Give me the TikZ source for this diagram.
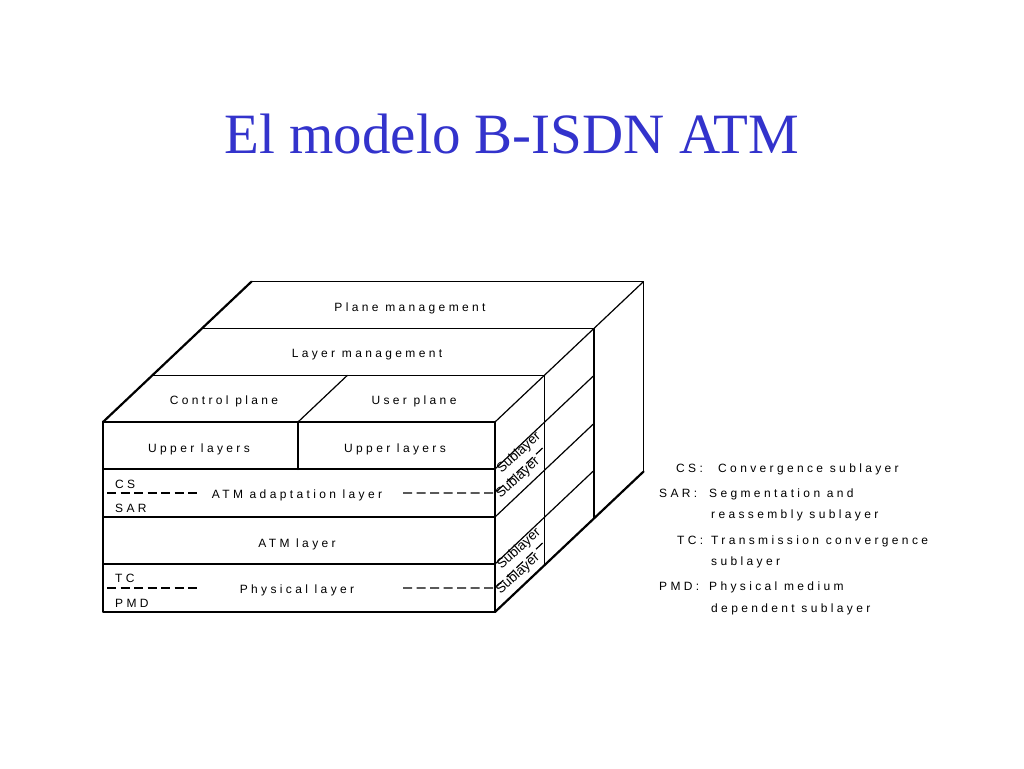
\documentclass[tikz,border=0pt]{standalone}
\usepackage{fontspec}
\setmainfont{Liberation Sans}
\newfontfamily\titlefont{Liberation Serif}
\newfontfamily\lblfont[LetterSpace=28]{Liberation Sans}
\newfontfamily\subfont{Liberation Sans}
\definecolor{titleblue}{RGB}{51,51,204}
\begin{document}
\begin{tikzpicture}[x=1pt,y=-1pt,
  edge/.style={line width=1.2pt, line join=round},
  thickedge/.style={line width=2.2pt, line cap=round},
  dashline/.style={line width=1.2pt, dash pattern=on 9pt off 4.5pt},
  lbl/.style={font=\lblfont\fontsize{12}{13}\selectfont, inner sep=0pt, anchor=base},
  leg/.style={lbl, anchor=base west},
  sub/.style={font=\subfont\fontsize{13.5}{14}\selectfont, inner sep=0pt, rotate=42},
  ttl/.style={font=\titlefont\fontsize{57}{60}\selectfont, text=titleblue, inner sep=0pt, anchor=base}]
\useasboundingbox[fill=white] (0,0) rectangle (1024,768);

% title
\node[ttl] (title) at (512,153) {El modelo B-ISDN ATM};

% front face
\draw[edge] (103,422) rectangle (495,612);
\draw[edge] (103,469) -- (495,469);
\draw[edge] (103,517) -- (495,517);
\draw[edge] (103,564) -- (495,564);
\draw[thickedge] (298,422) -- (298,469);

% top faces
\draw[edge] (152.5,375.2) -- (544.5,375.2);
\draw[edge] (202,328.4) -- (594,328.4);
\draw[edge] (251.5,281.6) -- (643.5,281.6);
\draw[edge] (298,422) -- (347.5,375.2);
\draw[thickedge] (103,422) -- (251.5,281.6);

% right faces
\draw[edge] (495,422) -- (643.5,281.6);
\draw[edge] (544.5,375.2) -- (544.5,565.2);
\draw[edge] (594,328.4) -- (594,518.4);
\draw[edge] (643.5,281.6) -- (643.5,471.6);
\draw[edge] (495,469) -- (594,375.4);
\draw[edge] (495,517) -- (594,423.4);
\draw[edge] (495,564) -- (594,470.4);
\draw[thickedge] (495,612) -- (643.5,471.6);

% dashed sublayer separators
\draw[dashline] (107,493) -- (200,493);
\draw[dashline] (403,493) -- (495,493) -- (544.5,446.2);
\draw[dashline] (107,588) -- (200,588);
\draw[dashline] (403,588) -- (495,588) -- (544.5,541.2);

% labels on the cube
\node[lbl] (pm) at (410,311) {Plane management};
\node[lbl] (lm) at (367,357) {Layer management};
\node[lbl] (cp) at (224,404) {Control plane};
\node[lbl] (up) at (414,404) {User plane};
\node[lbl] (ul1) at (199,452) {Upper layers};
\node[lbl] (ul2) at (395,452) {Upper layers};
\node[lbl] (aal) at (297,498) {ATM adaptation layer};
\node[lbl] (atm) at (297,547) {ATM layer};
\node[lbl] (phy) at (297,593) {Physical layer};
\node[leg] (cs) at (115,488) {CS};
\node[leg] (sar) at (115,512.5) {SAR};
\node[leg] (tc) at (115,582) {TC};
\node[leg] (pmd) at (115,607) {PMD};

% sublayer labels on the side face
\node[sub] (s1) at (519,453) {Sublayer};
\node[sub] (s2) at (518,478) {Sublayer};
\node[sub] (s3) at (519,549) {Sublayer};
\node[sub] (s4) at (518,574) {Sublayer};

% legend
\node[leg] (lcs) at (676,472) {CS:};
\node[leg] (dcs) at (718,472) {Convergence sublayer};
\node[leg] (lsar) at (659,497) {SAR:};
\node[leg] (dsar) at (709,497) {Segmentation and};
\node[leg] (dsar2) at (711,518.5) {reassembly sublayer};
\node[leg] (ltc) at (677,544.5) {TC:};
\node[leg] (dtc) at (711,544.5) {Transmission convergence};
\node[leg] (dtc2) at (711,565) {sublayer};
\node[leg] (lpmd) at (659,590.5) {PMD:};
\node[leg] (dpmd) at (709,590.5) {Physical medium};
\node[leg] (dpmd2) at (711,612) {dependent sublayer};
\end{tikzpicture}
\end{document}
